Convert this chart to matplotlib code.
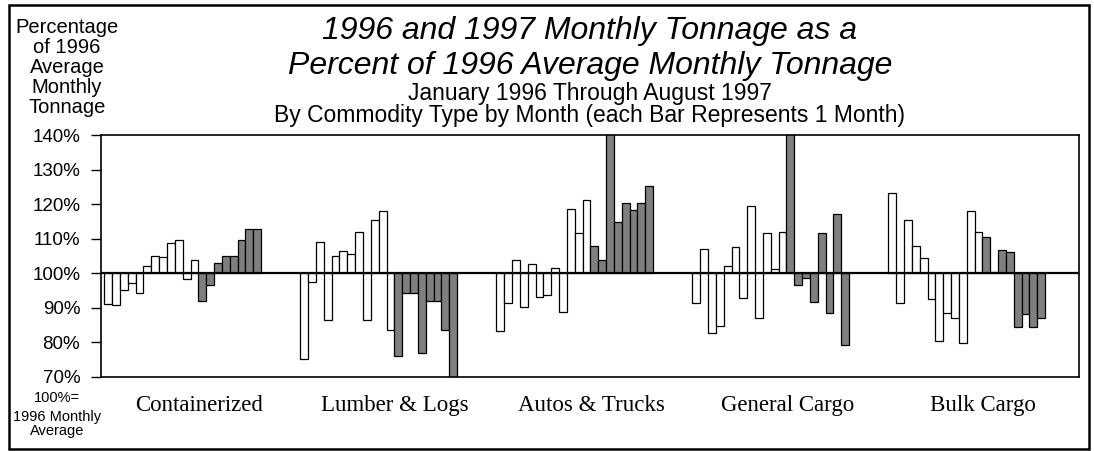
import numpy as np
import matplotlib
matplotlib.use("Agg")
import matplotlib.pyplot as plt
from matplotlib import font_manager
from matplotlib.patches import Rectangle
from matplotlib.transforms import blended_transform_factory

# percent of 1996 average monthly tonnage, Jan 1996 .. Aug 1997 (20 months)
commodities = ["Containerized", "Lumber & Logs", "Autos & Trucks",
               "General Cargo", "Bulk Cargo"]
containerized = [91.0, 90.8, 95.0, 97.2, 94.4, 102.0, 105.0, 104.7, 108.9, 109.5,
                 98.2, 103.9, 92.1, 96.5, 103.0, 105.1, 105.0, 109.5, 112.7, 112.9]
lumber_logs = [75.1, 97.6, 109.0, 86.4, 105.0, 106.4, 105.7, 112.0, 86.4, 115.5,
               118.0, 83.6, 76.0, 94.4, 94.4, 76.8, 92.1, 92.1, 83.6, 68.0]
autos_trucks = [83.2, 91.5, 103.8, 90.3, 102.8, 93.0, 93.7, 101.5, 88.9, 118.6,
                111.6, 121.3, 107.8, 103.7, 145.0, 115.0, 120.3, 118.2, 120.3, 125.4]
general_cargo = [91.5, 106.9, 82.8, 84.7, 102.1, 107.6, 92.9, 119.6, 87.1, 111.6,
                 101.3, 111.9, 145.0, 96.5, 98.5, 91.8, 111.6, 88.6, 117.1, 79.1]
bulk_cargo = [123.3, 91.5, 115.5, 108.0, 104.3, 92.4, 80.3, 88.6, 87.0, 79.7,
              118.0, 111.9, 110.4, 100.4, 106.8, 106.1, 84.5, 88.3, 84.3, 87.0]
series = [containerized, lumber_logs, autos_trucks, general_cargo, bulk_cargo]
n_1996 = 12
y_ticks = [70, 80, 90, 100, 110, 120, 130, 140]

sans = "Liberation Sans"
narrow = "Liberation Sans Narrow"
names = {f.name for f in font_manager.fontManager.ttflist}
if narrow not in names:
    narrow = sans
serif = "Liberation Serif"

fig = plt.figure(figsize=(10.94, 4.51), dpi=100)
ax = fig.add_axes([0.0923, 0.1647, 0.894, 0.5353])

gap = 5
for g, vals in enumerate(series):
    vals = np.array(vals)
    x = g * (len(vals) + gap) + np.arange(len(vals))
    colors = ["white"] * n_1996 + ["#7f7f7f"] * (len(vals) - n_1996)
    ax.bar(x, vals - 100, bottom=100, width=1.0, color=colors,
           edgecolor="black", linewidth=0.9, zorder=2)

ax.axhline(100, color="black", linewidth=1.6, zorder=3)
ax.set_xlim(-0.92, 123.82)
ax.set_ylim(70, 140)
ax.set_yticks(y_ticks)
ax.set_yticklabels([f"{t}%" for t in y_ticks], fontsize=13.5, family=sans)
ax.tick_params(axis="y", direction="out", length=7.5, width=1, pad=7.5)
ax.set_xticks([])
for s in ax.spines.values():
    s.set_linewidth(1.2)

# commodity labels under each group
trans = blended_transform_factory(ax.transData, fig.transFigure)
for g, name in enumerate(commodities):
    ax.text(g * 25 + 11.6, 0.0894, name, transform=trans, ha="center",
            va="baseline", fontsize=16.5, family=serif)

# titles
cx = (0.0923 + 0.9863) / 2
fig.text(cx, 0.9129, "1996 and 1997 Monthly Tonnage as a", ha="center",
         va="baseline", fontsize=23, style="italic", family=sans)
fig.text(cx, 0.8359, "Percent of 1996 Average Monthly Tonnage", ha="center",
         va="baseline", fontsize=23, style="italic", family=sans)
fig.text(cx, 0.7783, "January 1996 Through August 1997", ha="center",
         va="baseline", fontsize=16.5, family=sans)
fig.text(cx, 0.7295, "By Commodity Type by Month (each Bar Represents 1 Month)",
         ha="center", va="baseline", fontsize=16.5, family=sans)

# y axis caption
for i, line in enumerate(["Percentage", "of 1996", "Average", "Monthly", "Tonnage"]):
    fig.text(0.0612, 1 - (33.3 + 19.85 * i) / 451, line, ha="center",
             va="baseline", fontsize=14.5, family=sans)

# note at lower left
for line, yb in zip(["100%=", "1996 Monthly", "Average"], [401.7, 420.5, 435.5]):
    fig.text(57 / 1094, 1 - yb / 451, line, ha="center", va="baseline",
             fontsize=10.5, family=narrow)

# frame around the whole chart
fig.patches.append(Rectangle((9 / 1094, 2 / 451), 1080 / 1094, 444 / 451,
                             transform=fig.transFigure, fill=False,
                             edgecolor="black", linewidth=1.8))

fig.savefig("out.png", dpi=100)
